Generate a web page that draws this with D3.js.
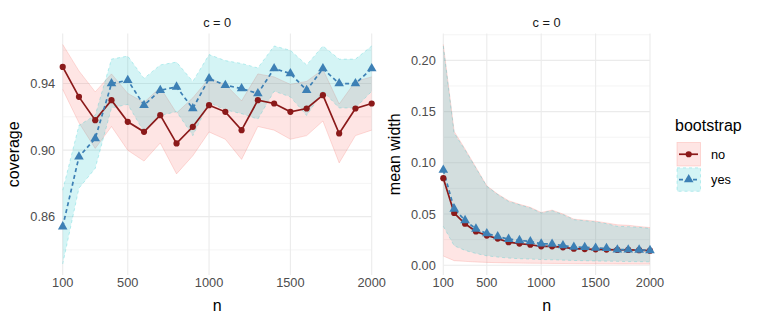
<!DOCTYPE html>
<html lang="en">
<head>
<meta charset="UTF-8">
<title>Coverage and mean width by n</title>
<style>
  body { margin: 0; background: #fff; }
  svg { display: block; font-family: "Liberation Sans", Arial, sans-serif; }
</style>
<script src="https://d3js.org/d3.v7.min.js"></script>
</head>
<body>
<div id="chart"></div>
<script>
const width = 761;
const height = 326;

// sample sizes
const ns = [100, 200, 300, 400, 500, 600, 700, 800, 900, 1000, 1100, 1200, 1300, 1400, 1500, 1600, 1700, 1800, 1900, 2000];

// coverage, bootstrap = no
const covNo   = [0.950, 0.932, 0.918, 0.930, 0.917, 0.911, 0.921, 0.904, 0.914, 0.927, 0.923, 0.912, 0.930, 0.928, 0.923, 0.925, 0.933, 0.910, 0.925, 0.928];
const covNoLo = [0.9365, 0.9164, 0.901, 0.9142, 0.8999, 0.8934, 0.9043, 0.8857, 0.8966, 0.9109, 0.9065, 0.8944, 0.9142, 0.912, 0.9065, 0.9087, 0.9175, 0.8923, 0.9087, 0.912];
const covNoHi = [0.9635, 0.9476, 0.935, 0.9458, 0.9341, 0.9286, 0.9377, 0.9223, 0.9314, 0.9431, 0.9395, 0.9296, 0.9458, 0.944, 0.9395, 0.9413, 0.9485, 0.9277, 0.9413, 0.944];
// coverage, bootstrap = yes
const covYes   = [0.854, 0.896, 0.907, 0.940, 0.942, 0.927, 0.936, 0.938, 0.925, 0.943, 0.939, 0.937, 0.934, 0.949, 0.946, 0.936, 0.949, 0.940, 0.940, 0.949];
const covYesLo = [0.8315, 0.8771, 0.889, 0.9253, 0.9275, 0.9109, 0.9208, 0.9231, 0.9087, 0.9286, 0.9242, 0.9219, 0.9186, 0.9354, 0.932, 0.9208, 0.9354, 0.9253, 0.9253, 0.9354];
const covYesHi = [0.8759, 0.9149, 0.921, 0.9547, 0.9565, 0.9431, 0.9512, 0.9529, 0.9413, 0.9574, 0.9538, 0.9521, 0.9494, 0.9626, 0.960, 0.9512, 0.9626, 0.9547, 0.9547, 0.9626];

// mean width
const mwNo   = [0.085, 0.051, 0.0405, 0.033, 0.029, 0.026, 0.0225, 0.0212, 0.0200, 0.0185, 0.0185, 0.0175, 0.0162, 0.0158, 0.0155, 0.0153, 0.0150, 0.0150, 0.0147, 0.0142];
const mwNoLo = [0.009, 0.0045, 0.0038, 0.0032, 0.0028, 0.0025, 0.0023, 0.0021, 0.002, 0.0019, 0.0018, 0.0017, 0.0016, 0.0015, 0.0015, 0.0014, 0.0013, 0.0013, 0.0012, 0.0012];
const mwNoHi = [0.2155, 0.1305, 0.1135, 0.0955, 0.0775, 0.0695, 0.063, 0.0595, 0.0565, 0.0515, 0.0538, 0.050, 0.045, 0.044, 0.043, 0.0413, 0.0395, 0.039, 0.0378, 0.0368];
const mwYes   = [0.093, 0.055, 0.0438, 0.0355, 0.031, 0.028, 0.0255, 0.0243, 0.0232, 0.021, 0.0208, 0.0192, 0.0178, 0.0175, 0.0168, 0.0165, 0.0152, 0.0152, 0.0150, 0.0145];
const mwYesLo = [0.038, 0.019, 0.0145, 0.0115, 0.0092, 0.008, 0.007, 0.0064, 0.006, 0.0056, 0.0053, 0.005, 0.0047, 0.0044, 0.0042, 0.004, 0.0038, 0.0036, 0.0035, 0.0033];
const mwYesHi = [0.214, 0.129, 0.1125, 0.0948, 0.077, 0.069, 0.0623, 0.059, 0.0559, 0.051, 0.0533, 0.0494, 0.0445, 0.0435, 0.0423, 0.0406, 0.038, 0.0377, 0.037, 0.036];

// ticks
const xTicks = [100, 500, 1000, 1500, 2000];
const covTicks = [0.86, 0.90, 0.94];
const covMinor = [0.84, 0.88, 0.92, 0.96];
const mwTicks = [0.00, 0.05, 0.10, 0.15, 0.20];
const mwMinor = [0.025, 0.075, 0.125, 0.175, 0.225];

const groups = ["no", "yes"];
const lineCol = { no: "#8B1A1A", yes: "#3D80B5" };
const ribCol = { no: "#F8766D", yes: "#00BFC4" };
const ribAlpha = { no: 0.19, yes: 0.17 };

const svg = d3.select("#chart")
    .append("svg")
    .attr("width", width)
    .attr("height", height);

function drawPanel(p) {
    const x = d3.scaleLinear().domain([100, 2000]).range([p.x0, p.x1]);
    const lo = d3.min(p.series, s => d3.min(s.lo));
    const hi = d3.max(p.series, s => d3.max(s.hi));
    const pad = (hi - lo) * 0.05;
    const y = d3.scaleLinear().domain([lo - pad, hi + pad]).range([p.y1, p.y0]);
    const g = svg.append("g");

    // grid
    g.selectAll(".minor").data(p.minor.filter(v => v >= y.domain()[0] && v <= y.domain()[1]))
        .enter().append("line")
        .attr("x1", p.x0).attr("x2", p.x1)
        .attr("y1", d => y(d)).attr("y2", d => y(d))
        .attr("stroke", "#EBEBEB").attr("stroke-width", 0.55);
    g.selectAll(".hmajor").data(p.yTicks)
        .enter().append("line")
        .attr("x1", p.x0).attr("x2", p.x1)
        .attr("y1", d => y(d)).attr("y2", d => y(d))
        .attr("stroke", "#EBEBEB").attr("stroke-width", 1.1);
    g.selectAll(".vmajor").data(xTicks)
        .enter().append("line")
        .attr("x1", d => x(d)).attr("x2", d => x(d))
        .attr("y1", p.y0).attr("y2", p.y1)
        .attr("stroke", "#EBEBEB").attr("stroke-width", 1.1);

    // ribbons
    p.series.forEach(s => {
        const pts = ns.map((n, i) => ({ n, lo: s.lo[i], hi: s.hi[i] }));
        g.append("path")
            .attr("d", d3.area().x(d => x(d.n)).y0(d => y(d.lo)).y1(d => y(d.hi))(pts))
            .attr("fill", ribCol[s.group]).attr("fill-opacity", ribAlpha[s.group]);
        ["lo", "hi"].forEach(k => {
            g.append("path")
                .attr("d", d3.line().x(d => x(d.n)).y(d => y(d[k]))(pts))
                .attr("fill", "none")
                .attr("stroke", ribCol[s.group]).attr("stroke-opacity", 0.3)
                .attr("stroke-width", 0.8)
                .attr("stroke-dasharray", s.group === "yes" ? "3,3" : null);
        });
    });

    // lines
    p.series.forEach(s => {
        g.append("path")
            .attr("d", d3.line().x((d, i) => x(ns[i])).y(d => y(d))(s.v))
            .attr("fill", "none")
            .attr("stroke", lineCol[s.group]).attr("stroke-width", 1.7)
            .attr("stroke-dasharray", s.group === "yes" ? "4,3" : null);
    });

    // points
    p.series.forEach(s => {
        if (s.group === "no") {
            g.selectAll(null).data(s.v).enter().append("circle")
                .attr("cx", (d, i) => x(ns[i])).attr("cy", d => y(d))
                .attr("r", 3.1).attr("fill", lineCol.no);
        } else {
            g.selectAll(null).data(s.v).enter().append("path")
                .attr("d", d3.symbol(d3.symbolTriangle, 40))
                .attr("transform", (d, i) => `translate(${x(ns[i])},${y(d)})`)
                .attr("fill", lineCol.yes);
        }
    });

    // strip + axes text
    g.append("text").attr("x", (p.x0 + p.x1) / 2).attr("y", 27)
        .attr("text-anchor", "middle").attr("font-size", 12.8).attr("fill", "#1A1A1A")
        .text("c = 0");
    g.selectAll(".xl").data(xTicks).enter().append("text")
        .attr("x", d => x(d)).attr("y", 287)
        .attr("text-anchor", "middle").attr("font-size", 12.8).attr("fill", "#4D4D4D")
        .text(d => d);
    g.selectAll(".yl").data(p.yTicks).enter().append("text")
        .attr("x", p.x0 - 7.5).attr("y", d => y(d)).attr("dy", "0.35em")
        .attr("text-anchor", "end").attr("font-size", 12.8).attr("fill", "#4D4D4D")
        .text(d => d3.format(".2f")(d));
    g.append("text").attr("x", (p.x0 + p.x1) / 2).attr("y", 311)
        .attr("text-anchor", "middle").attr("font-size", 16).attr("fill", "#000")
        .text("n");
    g.append("text")
        .attr("transform", `translate(${p.x0 - 43.5},${(p.y0 + p.y1) / 2}) rotate(-90)`)
        .attr("text-anchor", "middle").attr("font-size", 16).attr("fill", "#000")
        .text(p.ylab);
}

drawPanel({
    x0: 62.7, x1: 371.7, y0: 33.5, y1: 275,
    yTicks: covTicks, minor: covMinor, ylab: "coverage",
    series: [
        { group: "no", v: covNo, lo: covNoLo, hi: covNoHi },
        { group: "yes", v: covYes, lo: covYesLo, hi: covYesHi }
    ]
});

drawPanel({
    x0: 443.3, x1: 650, y0: 33.5, y1: 275,
    yTicks: mwTicks, minor: mwMinor, ylab: "mean width",
    series: [
        { group: "no", v: mwNo, lo: mwNoLo, hi: mwNoHi },
        { group: "yes", v: mwYes, lo: mwYesLo, hi: mwYesHi }
    ]
});

// legend
const leg = svg.append("g");
leg.append("text").attr("x", 675).attr("y", 131)
    .attr("font-size", 16).attr("fill", "#000").text("bootstrap");

groups.forEach((grp, i) => {
    const ky = 142.5 + i * 25.3;
    leg.append("rect")
        .attr("x", 677).attr("y", ky).attr("width", 23.5).attr("height", 23.5)
        .attr("fill", ribCol[grp]).attr("fill-opacity", ribAlpha[grp])
        .attr("stroke", ribCol[grp]).attr("stroke-opacity", 0.3).attr("stroke-width", 0.8)
        .attr("stroke-dasharray", grp === "yes" ? "3,3" : null);
    const cy = ky + 11.75;
    leg.append("line")
        .attr("x1", 679).attr("x2", 698).attr("y1", cy).attr("y2", cy)
        .attr("stroke", lineCol[grp]).attr("stroke-width", 1.7)
        .attr("stroke-dasharray", grp === "yes" ? "4,3" : null);
    if (grp === "no") {
        leg.append("circle").attr("cx", 688.7).attr("cy", cy).attr("r", 3.1).attr("fill", lineCol.no);
    } else {
        leg.append("path").attr("d", d3.symbol(d3.symbolTriangle, 40))
            .attr("transform", `translate(688.7,${cy})`).attr("fill", lineCol.yes);
    }
    leg.append("text").attr("x", 711).attr("y", cy).attr("dy", "0.35em")
        .attr("font-size", 12.8).attr("fill", "#000").text(grp);
});
</script>
</body>
</html>
